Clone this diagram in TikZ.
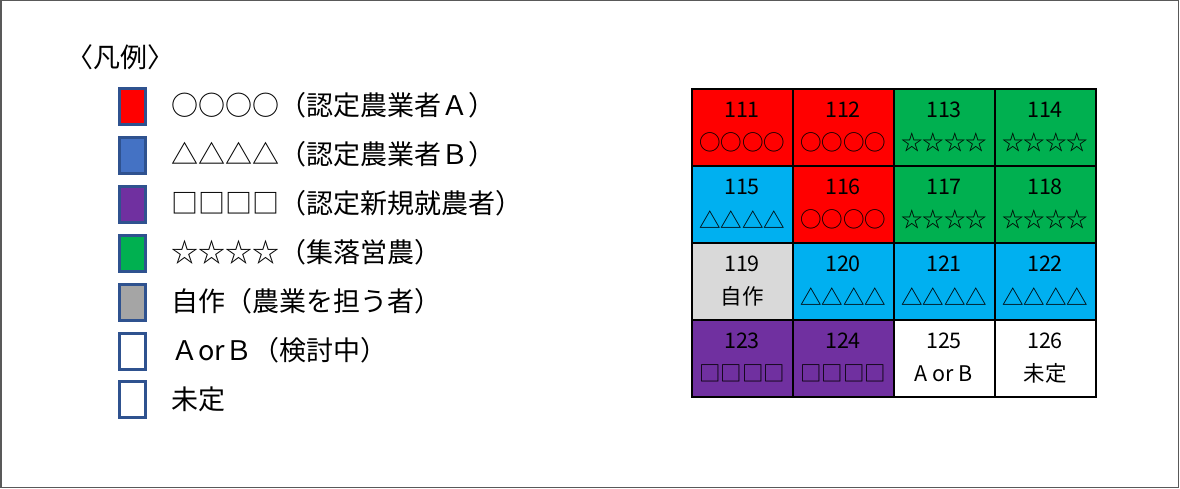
\documentclass[tikz,border=0pt]{standalone}
\usepackage{fontspec}
\setmainfont{Noto Sans CJK JP}
\newfontfamily\jp{Noto Sans CJK JP}
\definecolor{cRed}{HTML}{FF0000}
\definecolor{cGreen}{HTML}{00B050}
\definecolor{cCyan}{HTML}{00B0F0}
\definecolor{cGray}{HTML}{D9D9D9}
\definecolor{cPurple}{HTML}{7030A0}
\definecolor{cBlue}{HTML}{4472C4}
\definecolor{cMid}{HTML}{A5A5A5}
\definecolor{cEdge}{HTML}{2F528F}
\definecolor{cFrame}{HTML}{595959}
\begin{document}
\begin{tikzpicture}[x=1pt,y=-1pt,
  swatch/.style={draw=cEdge, line width=3pt, minimum width=26pt, minimum height=36pt, inner sep=0pt},
  legtext/.style={anchor=west, inner sep=0pt, font=\jp\fontsize{27}{27}\selectfont},
  cell/.style={draw=black, line width=2pt, minimum width=101pt, minimum height=77pt, inner sep=0pt},
  celltext/.style={inner sep=0pt, font=\jp\fontsize{21.5}{21.5}\selectfont}]
\useasboundingbox (0,0) rectangle (1180,489);
\draw[cFrame, line width=1.5pt] (0.75,0.75) rectangle (1178.5,487.5);
\node[legtext] (title) at (66,57) {〈凡例〉};
% legend
\foreach \i/\col/\txt in {0/cRed/○○○○（認定農業者Ａ）,1/cBlue/△△△△（認定農業者Ｂ）,2/cPurple/□□□□（認定新規就農者）,3/cGreen/☆☆☆☆（集落営農）,4/cMid/自作（農業を担う者）,5/white/ＡorＢ（検討中）,6/white/未定}{
  \node[swatch, fill=\col] (sw\i) at (132.5,{106.5+\i*48.9}) {};
  \node[legtext] (lt\i) at (171,{105.5+\i*48.9}) {\txt};
}
% grid
\foreach \r/\c/\num/\col/\sym in {
 0/0/111/cRed/○○○○, 0/1/112/cRed/○○○○, 0/2/113/cGreen/☆☆☆☆, 0/3/114/cGreen/☆☆☆☆,
 1/0/115/cCyan/△△△△, 1/1/116/cRed/○○○○, 1/2/117/cGreen/☆☆☆☆, 1/3/118/cGreen/☆☆☆☆,
 2/0/119/cGray/自作, 2/1/120/cCyan/△△△△, 2/2/121/cCyan/△△△△, 2/3/122/cCyan/△△△△,
 3/0/123/cPurple/□□□□, 3/1/124/cPurple/□□□□, 3/2/125/white/A or B, 3/3/126/white/未定}{
  \node[cell, fill=\col] (c\num) at ({742+\c*101},{127.5+\r*77}) {};
  \node[celltext] (n\num) at ([yshift=18pt]c\num.center) {\num};
  \node[celltext] (s\num) at ([yshift=-15pt]c\num.center) {\sym};
}
\end{tikzpicture}
\end{document}
